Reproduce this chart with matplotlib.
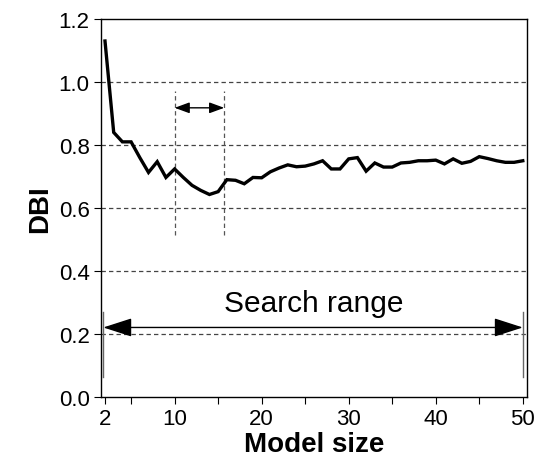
import matplotlib
matplotlib.use("Agg")
import matplotlib.pyplot as plt

plt.rcParams['font.family'] = ['Liberation Sans', 'DejaVu Sans']

model_size = list(range(2, 51))
dbi = [1.13, 0.84, 0.81, 0.81, 0.76, 0.713, 0.747, 0.697, 0.724, 0.697,
       0.672, 0.656, 0.643, 0.652, 0.690, 0.688, 0.677, 0.697, 0.696, 0.715,
       0.727, 0.737, 0.731, 0.733, 0.740, 0.750, 0.724, 0.724, 0.756, 0.760,
       0.717, 0.743, 0.730, 0.730, 0.743, 0.745, 0.750, 0.750, 0.752, 0.740,
       0.756, 0.742, 0.748, 0.763, 0.757, 0.750, 0.745, 0.745, 0.750]

x_ticks = [2, 5, 10, 15, 20, 25, 30, 35, 40, 45, 50]
x_tick_labels = ['2', '', '10', '', '20', '', '30', '', '40', '', '50']
y_ticks = [0.0, 0.2, 0.4, 0.6, 0.8, 1.0, 1.2]
y_tick_labels = ['0.0', '0.2', '0.4', '0.6', '0.8', '1.0', '1.2']

best_range = (10, 15.7)
search_range = (1.8, 50)

fig = plt.figure(figsize=(5.44, 4.64), dpi=100)
ax = fig.add_axes([0.185, 0.142, 0.784, 0.815])

for yv in [0.2, 0.4, 0.6, 0.8, 1.0]:
    ax.axhline(yv, color='#444444', lw=0.9, ls=(0, (3.5, 2.5)), zorder=1)

ax.plot(model_size, dbi, color='black', lw=2.4, zorder=3, solid_joinstyle='miter')

# best range markers
for xv in best_range:
    ax.plot([xv, xv], [0.514, 0.972], color='#555555', lw=0.9, ls=(0, (3.5, 2.5)), zorder=2)
ax.annotate('', xy=(best_range[1], 0.918), xytext=(best_range[0], 0.918),
            arrowprops=dict(arrowstyle='<|-|>,head_length=0.9,head_width=0.33',
                            mutation_scale=10, color='black', lw=1.0,
                            shrinkA=0, shrinkB=0), zorder=4)

# search range
for xv in search_range:
    ax.plot([xv, xv], [0.064, 0.27], color='#666666', lw=1.0, zorder=2)
ax.annotate('', xy=(search_range[1], 0.221), xytext=(search_range[0], 0.221),
            arrowprops=dict(arrowstyle='<|-|>,head_length=1.8,head_width=0.58',
                            mutation_scale=10, color='black', lw=1.0,
                            shrinkA=0, shrinkB=0), zorder=4)
ax.text(26, 0.30, 'Search range', fontsize=21.5, ha='center', va='center')

ax.set_xlim(1.5, 50.5)
ax.set_ylim(0, 1.2)
ax.set_xticks(x_ticks)
ax.set_xticklabels(x_tick_labels)
ax.set_yticks(y_ticks)
ax.set_yticklabels(y_tick_labels)
ax.tick_params(axis='both', direction='out', length=5, width=0.8, labelsize=16, pad=3)
for s in ax.spines.values():
    s.set_linewidth(1.0)

ax.set_xlabel('Model size', fontsize=20, fontweight='bold', labelpad=1)
ax.set_ylabel('DBI', fontsize=20, fontweight='bold', labelpad=4)

fig.savefig('out.png', dpi=100)
